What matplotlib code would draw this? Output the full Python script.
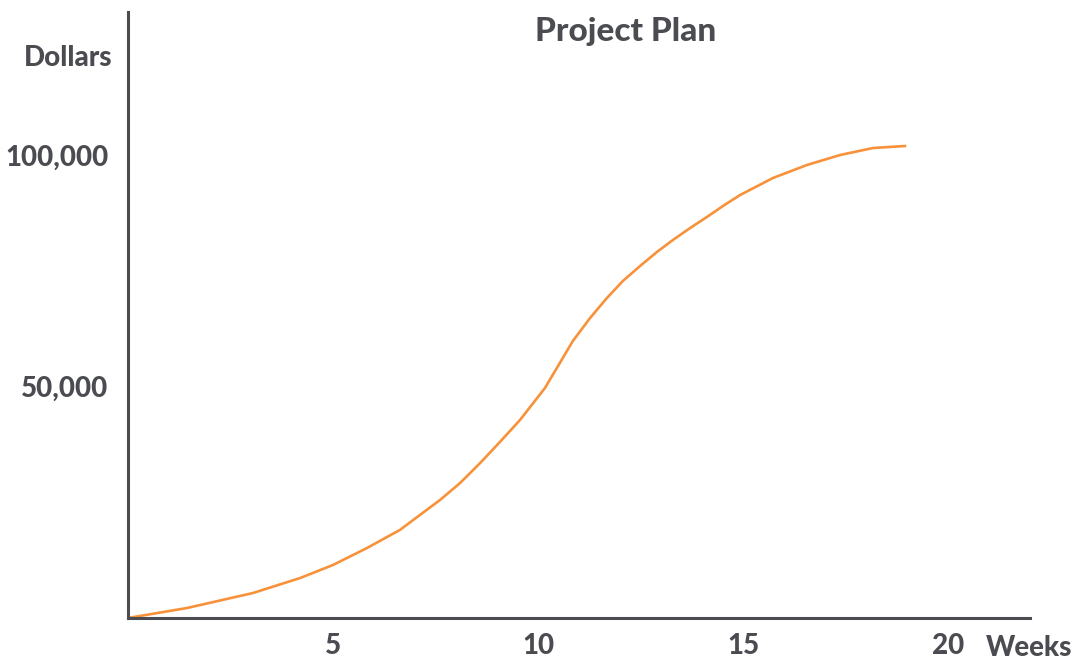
import matplotlib.pyplot as plt

# values
weeks = [0, 1.44, 3.05, 4.20, 5.00, 5.83, 6.63, 7.12, 7.61, 8.10, 8.59, 9.07,
         9.56, 10.17, 10.46, 10.85, 11.27, 11.68, 12.07, 12.49, 12.90, 13.29,
         13.71, 14.12, 14.51, 14.93, 15.73, 16.56, 17.37, 18.17, 18.95]
dollars = [0, 2160, 5400, 8640, 11450, 15120, 19010, 22250, 25490, 29160,
           33480, 38010, 42760, 49680, 54000, 59830, 64790, 69110, 72790,
           76030, 79050, 81640, 84230, 86610, 88980, 91360, 95030, 97840,
           100000, 101510, 101940]
xticks = [5, 10, 15, 20]
yticks = [50000, 100000]
ytick_labels = ['50,000', '100,000']

grey = '#4b4c51'
orange = '#f7923a'

plt.rcParams['font.family'] = ['Lato', 'DejaVu Sans']

fig = plt.figure(figsize=(10.75, 6.61), dpi=100)
ax = fig.add_axes([128 / 1075, 43 / 661, 902 / 1075, 606 / 661])

ax.plot(weeks, dollars, color=orange, lw=1.9, solid_joinstyle='round')

ax.set_xlim(0, 902 / 41)
ax.set_ylim(0, 606 / 4.63 * 1000)

ax.spines['top'].set_visible(False)
ax.spines['right'].set_visible(False)
for s in ['left', 'bottom']:
    ax.spines[s].set_color(grey)
    ax.spines[s].set_linewidth(2.2)

ax.set_xticks(xticks)
ax.set_xticklabels([str(t) for t in xticks])
ax.set_yticks(yticks)
ax.set_yticklabels(ytick_labels)
ax.tick_params(axis='both', length=0, labelsize=20, labelcolor=grey)
ax.tick_params(axis='x', pad=11)
ax.tick_params(axis='y', pad=14)
for lab in ax.get_xticklabels() + ax.get_yticklabels():
    lab.set_fontweight('black')

ax.text((1029 - 128) / 902, -30 / 606, 'Weeks', transform=ax.transAxes,
        ha='center', va='center', fontsize=20, fontweight='black', color=grey)
ax.text(-16 / 902, (618 - 58) / 606, 'Dollars', transform=ax.transAxes,
        ha='right', va='center', fontsize=20, fontweight='black', color=grey)
fig.text(626 / 1075, 1 - 32 / 661, 'Project Plan', ha='center', va='center',
         fontsize=24, fontweight='black', color=grey)

plt.savefig('out.png', dpi=100)
